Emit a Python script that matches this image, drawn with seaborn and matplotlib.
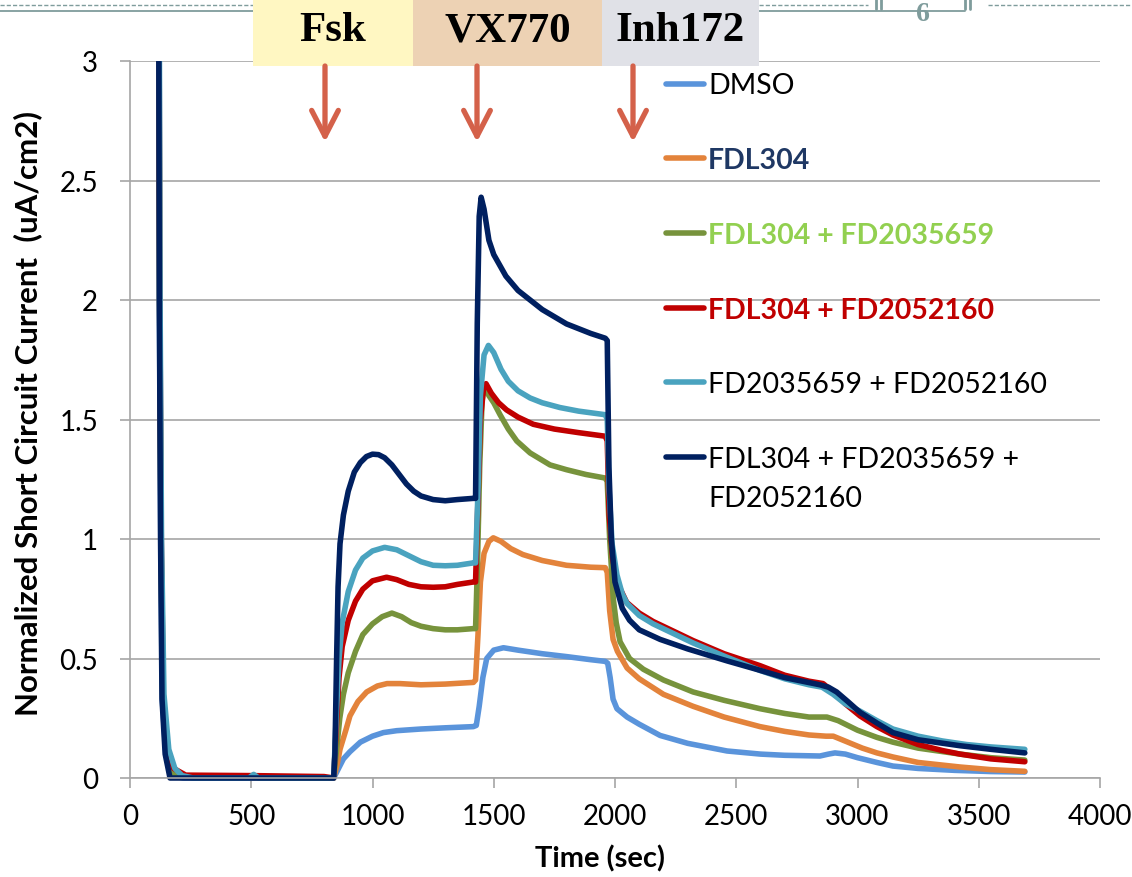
import numpy as np
import pandas as pd
import matplotlib
matplotlib.use('Agg')
import matplotlib.pyplot as plt
from matplotlib.patches import Rectangle, FancyArrowPatch
from matplotlib.lines import Line2D
from matplotlib.transforms import Bbox, TransformedBbox
import seaborn as sns

sns.set_style('white')
plt.rcParams['font.family'] = ['Lato', 'DejaVu Sans']
plt.rcParams['text.color'] = 'black'
plt.rcParams['axes.labelcolor'] = 'black'
plt.rcParams['xtick.labelcolor'] = 'black'
plt.rcParams['ytick.labelcolor'] = 'black'
plt.rcParams['lines.solid_joinstyle'] = 'round'
plt.rcParams['lines.solid_capstyle'] = 'round'

# ---- data (time in sec, normalized Isc) ----
series_names = ['DMSO', 'FDL304', 'FDL304 + FD2035659', 'FDL304 + FD2052160',
                'FD2035659 + FD2052160', 'FDL304 + FD2035659 + FD2052160']
line_colors = ['#5A94DB', '#E3833B', '#77933C', '#C00000', '#4AA3BF', '#002060']

dmso_t = [118, 121, 127, 133, 148, 172, 220, 840, 860, 880, 907, 950, 1000, 1045, 1100, 1200, 1300,
          1416, 1428, 1440, 1455, 1471, 1500, 1540, 1600, 1700, 1800, 1900, 1960, 1970, 1980, 1992,
          2008, 2050, 2100, 2186, 2300, 2462, 2600, 2700, 2845, 2880, 2907, 2950, 3000, 3080, 3146,
          3250, 3400, 3550, 3690]
dmso_y = [3.5, 2.0, 1.0, 0.33, 0.1, 0.01, 0.0, 0.0, 0.04, 0.08, 0.11, 0.15, 0.175, 0.19, 0.198, 0.205,
          0.21, 0.215, 0.22, 0.3, 0.42, 0.5, 0.535, 0.545, 0.535, 0.52, 0.508, 0.495, 0.488, 0.48, 0.42,
          0.33, 0.29, 0.255, 0.225, 0.178, 0.145, 0.113, 0.1, 0.095, 0.092, 0.1, 0.105, 0.1, 0.085,
          0.065, 0.05, 0.04, 0.032, 0.027, 0.025]

fdl_t = [119, 122, 128, 135, 152, 180, 230, 840, 855, 866, 890, 907, 940, 976, 1020, 1060, 1113, 1200,
         1300, 1416, 1425, 1435, 1445, 1460, 1480, 1498, 1530, 1570, 1620, 1700, 1800, 1900, 1960,
         1968, 1978, 1992, 2010, 2050, 2100, 2200, 2322, 2450, 2598, 2700, 2800, 2870, 2900, 2960,
         3020, 3080, 3146, 3250, 3423, 3550, 3690]
fdl_y = [3.5, 2.0, 1.0, 0.33, 0.1, 0.02, 0.005, 0.0, 0.06, 0.12, 0.2, 0.26, 0.32, 0.36, 0.385, 0.395,
         0.395, 0.39, 0.393, 0.4, 0.41, 0.6, 0.82, 0.94, 0.99, 1.005, 0.99, 0.96, 0.935, 0.91, 0.89,
         0.882, 0.88, 0.86, 0.7, 0.58, 0.53, 0.46, 0.415, 0.35, 0.3, 0.255, 0.215, 0.195, 0.18, 0.175,
         0.175, 0.15, 0.125, 0.105, 0.088, 0.065, 0.046, 0.035, 0.028]

fdl_659_t = [119, 122, 128, 135, 150, 175, 220, 840, 850, 865, 880, 900, 930, 960, 1000, 1040, 1080,
             1120, 1160, 1200, 1250, 1300, 1350, 1415, 1425, 1433, 1442, 1452, 1460, 1480, 1500, 1526,
             1560, 1595, 1650, 1732, 1800, 1880, 1960, 1968, 1978, 1993, 2005, 2021, 2060, 2117, 2200,
             2322, 2450, 2598, 2700, 2800, 2874, 2920, 3000, 3080, 3146, 3250, 3423, 3550, 3690]
fdl_659_y = [3.5, 2.0, 1.0, 0.33, 0.1, 0.02, 0.005, 0.0, 0.1, 0.25, 0.35, 0.44, 0.53, 0.6, 0.645, 0.675,
             0.69, 0.675, 0.65, 0.635, 0.625, 0.62, 0.62, 0.625, 0.625, 0.9, 1.3, 1.58, 1.64, 1.6, 1.57,
             1.52, 1.46, 1.41, 1.36, 1.31, 1.29, 1.27, 1.255, 1.24, 1.0, 0.75, 0.65, 0.57, 0.5, 0.455,
             0.41, 0.36, 0.325, 0.29, 0.27, 0.255, 0.255, 0.24, 0.2, 0.17, 0.15, 0.125, 0.1, 0.085, 0.075]

fdl_160_t = [119, 123, 129, 137, 155, 180, 230, 500, 800, 840, 850, 862, 875, 900, 930, 960, 1000, 1058,
             1100, 1150, 1200, 1250, 1300, 1350, 1415, 1425, 1433, 1445, 1458, 1468, 1490, 1520, 1553,
             1600, 1663, 1750, 1850, 1960, 1968, 1976, 1990, 2008, 2048, 2100, 2157, 2250, 2322, 2450,
             2598, 2700, 2800, 2858, 2900, 2950, 3010, 3080, 3146, 3250, 3350, 3423, 3550, 3690]
fdl_160_y = [3.5, 2.0, 1.0, 0.35, 0.12, 0.04, 0.012, 0.01, 0.006, 0.0, 0.2, 0.42, 0.55, 0.66, 0.74, 0.79,
             0.825, 0.84, 0.83, 0.81, 0.8, 0.798, 0.8, 0.81, 0.82, 0.82, 1.1, 1.5, 1.63, 1.65, 1.61, 1.57,
             1.54, 1.51, 1.48, 1.46, 1.445, 1.43, 1.41, 1.1, 0.92, 0.82, 0.735, 0.69, 0.655, 0.61, 0.575,
             0.52, 0.47, 0.43, 0.405, 0.395, 0.36, 0.31, 0.26, 0.215, 0.18, 0.14, 0.115, 0.1, 0.08, 0.068]

fd_pair_t = [120, 124, 130, 140, 160, 185, 215, 260, 490, 510, 530, 840, 850, 862, 875, 900, 930, 960,
             1000, 1050, 1100, 1150, 1200, 1250, 1300, 1350, 1415, 1425, 1435, 1445, 1460, 1478, 1500,
             1530, 1560, 1600, 1650, 1700, 1773, 1850, 1960, 1968, 1976, 1988, 2008, 2030, 2050, 2100,
             2157, 2250, 2322, 2450, 2598, 2700, 2800, 2854, 2900, 2950, 3010, 3080, 3146, 3250, 3350,
             3450, 3550, 3690]
fd_pair_y = [3.5, 2.0, 1.0, 0.35, 0.12, 0.04, 0.01, 0.0, 0.0, 0.015, 0.0, 0.0, 0.25, 0.5, 0.65, 0.78,
             0.87, 0.92, 0.95, 0.965, 0.955, 0.93, 0.905, 0.89, 0.888, 0.89, 0.9, 0.9, 1.2, 1.6, 1.77,
             1.81, 1.78, 1.71, 1.66, 1.62, 1.59, 1.57, 1.55, 1.535, 1.52, 1.5, 1.2, 0.98, 0.85, 0.77,
             0.73, 0.68, 0.645, 0.6, 0.565, 0.51, 0.45, 0.415, 0.39, 0.38, 0.35, 0.31, 0.28, 0.24, 0.205,
             0.175, 0.155, 0.14, 0.13, 0.12]

triple_t = [118, 121, 126, 132, 145, 165, 500, 840, 845, 852, 858, 866, 880, 900, 925, 950, 975, 1000,
            1025, 1050, 1080, 1110, 1140, 1170, 1200, 1250, 1300, 1350, 1415, 1425, 1432, 1440, 1448,
            1460, 1480, 1500, 1550, 1600, 1700, 1800, 1900, 1960, 1968, 1975, 1985, 2000, 2030, 2060,
            2100, 2186, 2300, 2462, 2600, 2700, 2845, 2880, 2914, 2960, 3010, 3080, 3146, 3250, 3423,
            3550, 3690]
triple_y = [3.5, 2.0, 1.0, 0.33, 0.1, 0.0, 0.0, 0.0, 0.1, 0.5, 0.8, 0.98, 1.1, 1.2, 1.28, 1.32, 1.345,
            1.355, 1.353, 1.34, 1.31, 1.27, 1.23, 1.2, 1.18, 1.165, 1.16, 1.165, 1.17, 1.17, 1.9, 2.35,
            2.43, 2.38, 2.25, 2.19, 2.1, 2.04, 1.96, 1.9, 1.86, 1.84, 1.83, 1.3, 1.0, 0.82, 0.71, 0.66,
            0.62, 0.58, 0.54, 0.49, 0.45, 0.42, 0.39, 0.38, 0.36, 0.32, 0.275, 0.23, 0.19, 0.16, 0.135,
            0.12, 0.105]

legend_labels = ['DMSO', 'FDL304', 'FDL304 + FD2035659', 'FDL304 + FD2052160',
                 'FD2035659 + FD2052160', 'FDL304 + FD2035659 +']
legend_text_colors = ['black', '#1F3864', '#92D050', '#C00000', 'black', 'black']
legend_bold = [False, True, True, True, False, False]

x_ticks = [0, 500, 1000, 1500, 2000, 2500, 3000, 3500, 4000]
y_ticks = [0, 0.5, 1, 1.5, 2, 2.5, 3]
y_tick_labels = ['0', '0.5', '1', '1.5', '2', '2.5', '3']
treatments = ['Fsk', 'VX770', 'Inh172']
treatment_colors = ['#FFF7C2', '#EDD2B4', '#E0E1E7']

all_t = [dmso_t, fdl_t, fdl_659_t, fdl_160_t, fd_pair_t, triple_t]
all_y = [dmso_y, fdl_y, fdl_659_y, fdl_160_y, fd_pair_y, triple_y]
df = pd.concat([pd.DataFrame({'time': t, 'current': y, 'series': n})
                for t, y, n in zip(all_t, all_y, series_names)], ignore_index=True)

W, H = 1132, 878
fig = plt.figure(figsize=(W / 100, H / 100), dpi=100)
ax = fig.add_axes([130 / W, 1 - 779 / H, 970 / W, 717 / H])

sns.lineplot(data=df, x='time', y='current', hue='series', hue_order=series_names,
             palette=dict(zip(series_names, line_colors)), estimator=None, sort=False,
             legend=False, ax=ax)
for ln in ax.lines:
    ln.set_linewidth(4.0)

# let the lines sitting on zero show fully, but still clip at the top
clip = TransformedBbox(Bbox([[-0.01, -0.02], [1.0, 1.0]]), ax.transAxes)
for ln in ax.lines:
    ln.set_clip_box(clip)

grey = '#A6A6A6'
ax.set_xlim(0, 4000)
ax.set_ylim(0, 3)
ax.set_xticks(x_ticks)
ax.set_xticklabels([str(v) for v in x_ticks])
ax.set_yticks(y_ticks)
ax.set_yticklabels(y_tick_labels)
ax.yaxis.grid(True, color=grey, lw=1.2)
ax.xaxis.grid(False)
for s in ['top', 'right']:
    ax.spines[s].set_visible(False)
for s in ['left', 'bottom']:
    ax.spines[s].set_color(grey)
    ax.spines[s].set_linewidth(1.2)
ax.tick_params(axis='x', direction='out', length=7, width=1.2, color=grey, pad=11, labelsize=20)
ax.tick_params(axis='y', direction='out', length=7, width=1.2, color=grey, pad=16, labelsize=20)
ax.tick_params(axis='both', bottom=True, left=True)

ax.set_xlabel('Time (sec)', fontsize=21, fontweight='bold')
ax.set_ylabel('Normalized Short Circuit Current  (uA/cm2)', fontsize=22.5, fontweight='bold')
ax.xaxis.set_label_coords(0.485, -0.093)
ax.yaxis.set_label_coords(-0.091, 0.51)

leg = ax.legend(ax.lines[:6], legend_labels, loc='upper left', bbox_to_anchor=(0.5526, 0.984),
                frameon=False, fontsize=20.5, handlelength=1.35, handletextpad=0.12,
                labelspacing=1.71, borderpad=0, borderaxespad=0)
for txt, c, b in zip(leg.get_texts(), legend_text_colors, legend_bold):
    txt.set_color(c)
    if b:
        txt.set_fontweight('bold')
for h in leg.legend_handles:
    h.set_linewidth(4)
ax.annotate('FD2052160', xy=(0, 0), xycoords=leg.get_texts()[5], xytext=(0, -28.5),
            textcoords='offset points', va='bottom', ha='left', fontsize=20.5,
            color='black', zorder=10)

# treatment header boxes and arrows
box_x = [253, 413, 602]
box_w = [160, 189, 157]
arrow_x = [325, 477, 633]
for name, c, x0, w, xa in zip(treatments, treatment_colors, box_x, box_w, arrow_x):
    fig.patches.append(Rectangle((x0 / W, 1 - 67 / H), w / W, 67 / H, transform=fig.transFigure,
                                 facecolor=c, edgecolor='none', zorder=5))
    fig.text((x0 + w / 2) / W, 1 - 31 / H, name, ha='center', va='center', fontsize=31,
             family='Liberation Serif', fontweight='bold', zorder=6)
    fig.patches.append(FancyArrowPatch((xa / W, 1 - 67 / H), (xa / W, 1 - 143 / H),
                                       transform=fig.transFigure,
                                       arrowstyle='->,head_length=0.62,head_width=0.32',
                                       mutation_scale=30, color='#D4614A', lw=3.8,
                                       shrinkA=0, shrinkB=0, zorder=6))

# slide decoration at the very top
deco = '#7F9C9C'
for xs in [(0, 253), (759, 868), (988, 1132)]:
    fig.lines.append(Line2D([xs[0] / W, xs[1] / W], [1 - 6 / H, 1 - 6 / H], transform=fig.transFigure,
                            color=deco, lw=1, ls=(0, (3, 1.5))))
for xs in [(0, 253), (759, 965)]:
    fig.lines.append(Line2D([xs[0] / W, xs[1] / W], [1 - 12 / H, 1 - 12 / H], transform=fig.transFigure,
                            color=deco, lw=1.3))
for xb in [876, 881, 965, 970]:
    fig.lines.append(Line2D([xb / W, xb / W], [1, 1 - 10 / H], transform=fig.transFigure,
                            color=deco, lw=2))
fig.text(923 / W, 1 - 21 / H, '6', ha='center', va='baseline', fontsize=20,
         family='Liberation Serif', fontweight='bold', color=deco)

fig.savefig('out.png', dpi=100)
